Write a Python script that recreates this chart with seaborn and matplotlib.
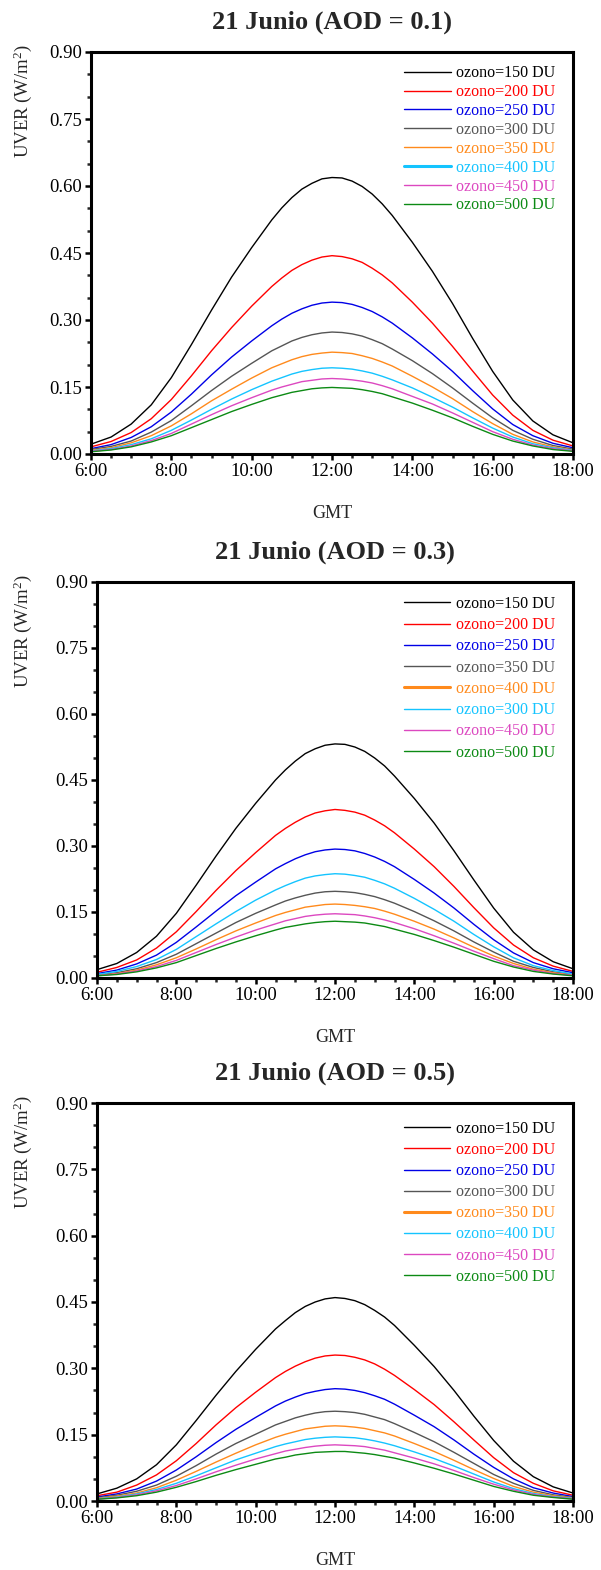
import matplotlib
matplotlib.use('Agg')
import matplotlib.pyplot as plt
import seaborn as sns
from matplotlib.ticker import MultipleLocator, FixedLocator, FixedFormatter
from matplotlib.lines import Line2D

# ---------------- data ----------------
hours = [6.0, 6.5, 7.0, 7.5, 8.0, 8.5, 9.0, 9.5, 10.0, 10.5,
         10.75, 11.0, 11.25, 11.5, 11.75, 12.0, 12.25, 12.5, 12.75, 13.0, 13.25, 13.5,
         14.0, 14.5, 15.0, 15.5, 16.0, 16.5, 17.0, 17.5, 18.0]

xtick_pos = [6, 8, 10, 12, 14, 16, 18]
xtick_labels = ['6:00', '8:00', '10:00', '12:00', '14:00', '16:00', '18:00']
ytick_pos = [0.00, 0.15, 0.30, 0.45, 0.60, 0.75, 0.90]
ytick_labels = ['0.00', '0.15', '0.30', '0.45', '0.60', '0.75', '0.90']

titles = ['21 Junio (AOD = 0.1)', '21 Junio (AOD = 0.3)', '21 Junio (AOD = 0.5)']

# Panel 1 (AOD = 0.1)
p1_labels = ['ozono=150 DU', 'ozono=200 DU', 'ozono=250 DU', 'ozono=300 DU',
             'ozono=350 DU', 'ozono=400 DU', 'ozono=450 DU', 'ozono=500 DU']
p1_o150 = [0.022, 0.038, 0.067, 0.110, 0.171, 0.245, 0.322, 0.396, 0.462, 0.524,
           0.551, 0.574, 0.593, 0.606, 0.616, 0.619, 0.618, 0.611, 0.599, 0.582, 0.560, 0.534,
           0.474, 0.409, 0.337, 0.259, 0.185, 0.121, 0.074, 0.043, 0.025]
p1_o200 = [0.016, 0.028, 0.048, 0.079, 0.122, 0.175, 0.231, 0.283, 0.331, 0.375,
           0.394, 0.411, 0.424, 0.434, 0.441, 0.444, 0.442, 0.437, 0.429, 0.416, 0.401, 0.383,
           0.340, 0.293, 0.241, 0.186, 0.132, 0.087, 0.053, 0.031, 0.018]
p1_o250 = [0.012, 0.021, 0.037, 0.061, 0.094, 0.134, 0.177, 0.217, 0.253, 0.287,
           0.302, 0.315, 0.325, 0.333, 0.338, 0.340, 0.339, 0.335, 0.328, 0.319, 0.307, 0.293,
           0.260, 0.224, 0.185, 0.142, 0.101, 0.066, 0.041, 0.024, 0.014]
p1_o300 = [0.010, 0.017, 0.029, 0.049, 0.075, 0.108, 0.142, 0.174, 0.203, 0.231,
           0.242, 0.253, 0.261, 0.267, 0.271, 0.273, 0.272, 0.269, 0.264, 0.256, 0.247, 0.235,
           0.209, 0.180, 0.148, 0.114, 0.081, 0.053, 0.033, 0.019, 0.011]
p1_o350 = [0.008, 0.014, 0.025, 0.041, 0.063, 0.090, 0.119, 0.145, 0.170, 0.193,
           0.202, 0.211, 0.218, 0.223, 0.226, 0.228, 0.227, 0.225, 0.220, 0.214, 0.206, 0.197,
           0.174, 0.150, 0.124, 0.095, 0.068, 0.044, 0.027, 0.016, 0.009]
p1_o400 = [0.007, 0.012, 0.021, 0.034, 0.053, 0.076, 0.100, 0.123, 0.144, 0.163,
           0.171, 0.179, 0.185, 0.189, 0.192, 0.193, 0.192, 0.190, 0.186, 0.181, 0.174, 0.166,
           0.148, 0.127, 0.105, 0.081, 0.058, 0.038, 0.023, 0.014, 0.008]
p1_o450 = [0.006, 0.010, 0.018, 0.030, 0.046, 0.067, 0.088, 0.108, 0.126, 0.143,
           0.150, 0.156, 0.162, 0.165, 0.168, 0.169, 0.168, 0.166, 0.163, 0.159, 0.153, 0.146,
           0.129, 0.112, 0.092, 0.071, 0.050, 0.033, 0.020, 0.012, 0.007]
p1_o500 = [0.005, 0.009, 0.016, 0.027, 0.041, 0.059, 0.077, 0.095, 0.111, 0.126,
           0.132, 0.138, 0.142, 0.146, 0.148, 0.149, 0.148, 0.147, 0.144, 0.140, 0.135, 0.128,
           0.114, 0.098, 0.081, 0.062, 0.044, 0.029, 0.018, 0.010, 0.006]

# Panel 2 (AOD = 0.3) -- legend order as in the original figure
p2_labels = ['ozono=150 DU', 'ozono=200 DU', 'ozono=250 DU', 'ozono=350 DU',
             'ozono=400 DU', 'ozono=300 DU', 'ozono=450 DU', 'ozono=500 DU']
p2_o150 = [0.019, 0.033, 0.058, 0.095, 0.147, 0.211, 0.277, 0.340, 0.397, 0.450,
           0.473, 0.493, 0.510, 0.521, 0.529, 0.532, 0.531, 0.525, 0.515, 0.500, 0.482, 0.459,
           0.408, 0.352, 0.289, 0.223, 0.159, 0.104, 0.064, 0.037, 0.021]
p2_o200 = [0.013, 0.024, 0.041, 0.068, 0.105, 0.151, 0.199, 0.244, 0.285, 0.324,
           0.340, 0.354, 0.366, 0.375, 0.380, 0.383, 0.381, 0.377, 0.370, 0.359, 0.346, 0.330,
           0.293, 0.253, 0.208, 0.160, 0.114, 0.075, 0.046, 0.027, 0.015]
p2_o250 = [0.010, 0.018, 0.032, 0.052, 0.081, 0.116, 0.152, 0.187, 0.218, 0.248,
           0.260, 0.271, 0.280, 0.287, 0.291, 0.293, 0.292, 0.289, 0.283, 0.275, 0.265, 0.253,
           0.224, 0.193, 0.159, 0.122, 0.087, 0.057, 0.035, 0.021, 0.012]
p2_o350 = [0.007, 0.012, 0.021, 0.035, 0.054, 0.078, 0.102, 0.126, 0.147, 0.166,
           0.175, 0.182, 0.188, 0.193, 0.196, 0.197, 0.196, 0.194, 0.190, 0.185, 0.178, 0.170,
           0.151, 0.130, 0.107, 0.082, 0.059, 0.038, 0.024, 0.014, 0.008]
p2_o400 = [0.006, 0.010, 0.018, 0.030, 0.046, 0.066, 0.087, 0.107, 0.125, 0.142,
           0.149, 0.155, 0.161, 0.164, 0.167, 0.168, 0.167, 0.165, 0.162, 0.158, 0.152, 0.145,
           0.129, 0.111, 0.091, 0.070, 0.050, 0.033, 0.020, 0.012, 0.007]
p2_o300 = [0.008, 0.015, 0.026, 0.042, 0.065, 0.094, 0.123, 0.151, 0.177, 0.200,
           0.210, 0.219, 0.227, 0.232, 0.235, 0.237, 0.236, 0.233, 0.229, 0.222, 0.214, 0.204,
           0.181, 0.156, 0.129, 0.099, 0.071, 0.046, 0.028, 0.017, 0.009]
p2_o450 = [0.005, 0.009, 0.016, 0.026, 0.040, 0.058, 0.076, 0.093, 0.109, 0.123,
           0.130, 0.135, 0.140, 0.143, 0.145, 0.146, 0.145, 0.144, 0.141, 0.137, 0.132, 0.126,
           0.112, 0.096, 0.079, 0.061, 0.044, 0.028, 0.018, 0.010, 0.006]
p2_o500 = [0.005, 0.008, 0.014, 0.023, 0.035, 0.051, 0.067, 0.082, 0.096, 0.109,
           0.115, 0.119, 0.123, 0.126, 0.128, 0.129, 0.128, 0.127, 0.125, 0.121, 0.117, 0.111,
           0.099, 0.085, 0.070, 0.054, 0.038, 0.025, 0.015, 0.009, 0.005]

# Panel 3 (AOD = 0.5)
p3_labels = ['ozono=150 DU', 'ozono=200 DU', 'ozono=250 DU', 'ozono=300 DU',
             'ozono=350 DU', 'ozono=400 DU', 'ozono=450 DU', 'ozono=500 DU']
p3_o150 = [0.016, 0.029, 0.050, 0.082, 0.127, 0.182, 0.239, 0.293, 0.343, 0.389,
           0.408, 0.426, 0.440, 0.450, 0.457, 0.460, 0.458, 0.453, 0.444, 0.431, 0.416, 0.397,
           0.352, 0.304, 0.250, 0.192, 0.137, 0.090, 0.055, 0.032, 0.018]
p3_o200 = [0.012, 0.020, 0.036, 0.059, 0.091, 0.130, 0.172, 0.211, 0.246, 0.279,
           0.293, 0.305, 0.315, 0.323, 0.328, 0.330, 0.329, 0.325, 0.319, 0.310, 0.298, 0.284,
           0.252, 0.218, 0.179, 0.138, 0.098, 0.064, 0.040, 0.023, 0.013]
p3_o250 = [0.009, 0.016, 0.027, 0.045, 0.070, 0.100, 0.132, 0.162, 0.189, 0.215,
           0.226, 0.235, 0.243, 0.248, 0.252, 0.254, 0.253, 0.250, 0.245, 0.238, 0.230, 0.219,
           0.194, 0.168, 0.138, 0.106, 0.076, 0.050, 0.030, 0.018, 0.010]
p3_o300 = [0.007, 0.013, 0.022, 0.036, 0.056, 0.080, 0.106, 0.130, 0.151, 0.172,
           0.180, 0.188, 0.194, 0.199, 0.202, 0.203, 0.202, 0.200, 0.196, 0.190, 0.184, 0.175,
           0.155, 0.134, 0.110, 0.085, 0.060, 0.040, 0.024, 0.014, 0.008]
p3_o350 = [0.006, 0.011, 0.018, 0.030, 0.047, 0.067, 0.088, 0.108, 0.127, 0.144,
           0.151, 0.157, 0.163, 0.166, 0.169, 0.170, 0.169, 0.167, 0.164, 0.159, 0.154, 0.147,
           0.130, 0.112, 0.092, 0.071, 0.051, 0.033, 0.020, 0.012, 0.007]
p3_o400 = [0.005, 0.009, 0.016, 0.026, 0.040, 0.057, 0.075, 0.093, 0.108, 0.123,
           0.129, 0.134, 0.139, 0.142, 0.144, 0.145, 0.144, 0.143, 0.140, 0.136, 0.131, 0.125,
           0.111, 0.096, 0.079, 0.061, 0.043, 0.028, 0.017, 0.010, 0.006]
p3_o450 = [0.004, 0.008, 0.014, 0.023, 0.035, 0.050, 0.066, 0.081, 0.095, 0.107,
           0.113, 0.117, 0.121, 0.124, 0.126, 0.127, 0.126, 0.125, 0.123, 0.119, 0.115, 0.109,
           0.097, 0.084, 0.069, 0.053, 0.038, 0.025, 0.015, 0.009, 0.005]
p3_o500 = [0.004, 0.007, 0.012, 0.020, 0.031, 0.044, 0.058, 0.071, 0.083, 0.095,
           0.099, 0.104, 0.107, 0.110, 0.111, 0.112, 0.112, 0.110, 0.108, 0.105, 0.101, 0.097,
           0.086, 0.074, 0.061, 0.047, 0.033, 0.022, 0.013, 0.008, 0.004]

# ---------------- styling ----------------
BLACK, RED, BLUE, GRAY = '#000000', '#FF0000', '#0000E6', '#555555'
ORANGE, CYAN, PINK, GREEN = '#FF8A1C', '#14C4FF', '#DC48C0', '#0C8A14'

p1_colors = [BLACK, RED, BLUE, GRAY, ORANGE, CYAN, PINK, GREEN]
p2_colors = [BLACK, RED, BLUE, GRAY, ORANGE, CYAN, PINK, GREEN]
p3_colors = [BLACK, RED, BLUE, GRAY, ORANGE, CYAN, PINK, GREEN]

panels = [
    dict(title=titles[0], labels=p1_labels, colors=p1_colors,
         series=[p1_o150, p1_o200, p1_o250, p1_o300, p1_o350, p1_o400, p1_o450, p1_o500],
         thick=5, rect=[91 / 601, 1 - 454 / 1570, 482 / 601, 402 / 1570],
         leg=(0.650, 0.967), lspace=0.18),
    dict(title=titles[1], labels=p2_labels, colors=p2_colors,
         series=[p2_o150, p2_o200, p2_o250, p2_o350, p2_o400, p2_o300, p2_o450, p2_o500],
         thick=4, rect=[97 / 601, 1 - 978 / 1570, 476 / 601, 396 / 1570],
         leg=(0.645, 0.965), lspace=0.33),
    dict(title=titles[2], labels=p3_labels, colors=p3_colors,
         series=[p3_o150, p3_o200, p3_o250, p3_o300, p3_o350, p3_o400, p3_o450, p3_o500],
         thick=4, rect=[97 / 601, 1 - 1501 / 1570, 476 / 601, 398 / 1570],
         leg=(0.645, 0.955), lspace=0.32),
]

sns.set_style('ticks')
plt.rcParams['font.family'] = ['Liberation Serif', 'DejaVu Serif']
plt.rcParams['mathtext.fontset'] = 'custom'
plt.rcParams['mathtext.rm'] = 'Liberation Serif'
plt.rcParams['mathtext.it'] = 'Liberation Serif:italic'
plt.rcParams['mathtext.bf'] = 'Liberation Serif:bold'

fig = plt.figure(figsize=(6.01, 15.70), dpi=100)
fig.patch.set_facecolor('white')

for p in panels:
    ax = fig.add_axes(p['rect'])
    for vals, col in zip(p['series'], p['colors']):
        sns.lineplot(x=hours, y=vals, ax=ax, color=col, linewidth=1.0, legend=False)

    ax.set_xlim(6, 18)
    ax.set_ylim(0, 0.9)
    ax.xaxis.set_major_locator(FixedLocator(xtick_pos))
    ax.xaxis.set_major_formatter(FixedFormatter(xtick_labels))
    ax.xaxis.set_minor_locator(MultipleLocator(0.5))
    ax.yaxis.set_major_locator(FixedLocator(ytick_pos))
    ax.yaxis.set_major_formatter(FixedFormatter(ytick_labels))
    ax.yaxis.set_minor_locator(MultipleLocator(0.05))

    for s in ax.spines.values():
        s.set_visible(True)
        s.set_linewidth(2.2)
        s.set_color('black')
    ax.tick_params(axis='both', which='major', direction='out', length=4.5, width=1.8,
                   labelsize=13.5, pad=2, colors='black', top=False, right=False)
    ax.tick_params(axis='both', which='minor', direction='out', length=3, width=1.8,
                   top=False, right=False)

    ax.set_title(p['title'], fontsize=19, fontweight='bold', pad=17)
    ax.set_xlabel('GMT', fontsize=13, labelpad=18)
    ax.set_ylabel('UVER (W/m$^{2}$)', fontsize=13.5, loc='top')
    x_lab = (34 - p['rect'][0] * 601) / (p['rect'][2] * 601)
    ax.yaxis.set_label_coords(x_lab, 1.02)

    handles = []
    for i, col in enumerate(p['colors']):
        handles.append(Line2D([0], [0], color=col, lw=2.2 if i == p['thick'] else 1.0))
    leg = ax.legend(handles, p['labels'], loc='upper left', bbox_to_anchor=p['leg'],
                    frameon=False, fontsize=11.5, handlelength=2.9, handletextpad=0.35,
                    labelspacing=p['lspace'], borderpad=0, borderaxespad=0)
    for t, col in zip(leg.get_texts(), p['colors']):
        t.set_color(col)

fig.savefig('out.png', dpi=100, facecolor='white')
